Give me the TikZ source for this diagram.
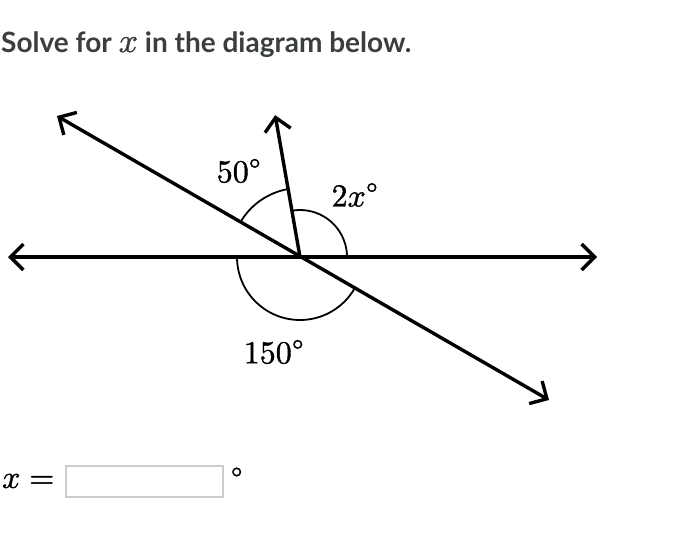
\documentclass[tikz,border=0pt]{standalone}
\usepackage{fontspec}
\usepackage{unicode-math}
\setmathfont{Latin Modern Math}[FakeBold=1.2]
\newfontfamily\lato{Lato}
\usetikzlibrary{arrows.meta}
\definecolor{titlegray}{HTML}{3B3E40}
\definecolor{boxgray}{HTML}{CCCCCC}
\newcommand\degr{^{\scalebox{1.3}{$\scriptstyle\circ$}}}
\begin{document}
\begin{tikzpicture}[x=1pt,y=-1pt,
  mainline/.style={line width=3.4pt,line cap=round},
  tip/.style={-{Straight Barb[length=13pt,width=26pt,line width=3.4pt]}},
  bothtip/.style={{Straight Barb[length=13pt,width=26pt,line width=3.4pt]}-{Straight Barb[length=13pt,width=26pt,line width=3.4pt]}},
  anglearc/.style={line width=1.8pt},
  lbl/.style={inner sep=0pt,font=\fontsize{32}{38}\selectfont}]
\useasboundingbox (0,0) rectangle (678,544);
\fill[white] (0,0) rectangle (678,544);
\node[anchor=base west,inner sep=0pt,text=titlegray,font=\lato\bfseries\fontsize{28}{34}\selectfont] (title) at (1,52) {Solve for {\fontsize{34}{34}\selectfont$x$} in the diagram below.};
\coordinate (O) at (300,257);
\coordinate (Lh) at (8,257);
\coordinate (Rh) at (597,257);
\path (O) ++(-243,-141) coordinate (Ta);
\path (O) ++(249,143) coordinate (Tb);
\path (O) ++(-24.8,-141.8) coordinate (Ry);
% angle arcs
\draw[anglearc] (O) ++(47,0) arc[start angle=0,end angle=-100,radius=47];
\draw[anglearc] (O) ++(-100:69) arc[start angle=-100,end angle=-150,radius=69];
\draw[anglearc] (O) ++(-63,0) arc[start angle=-180,end angle=-330,radius=63];
% lines
\draw[mainline,bothtip] (Lh) -- (Rh);
\draw[mainline,bothtip] (Ta) -- (Tb);
\draw[mainline,tip] (O) -- (Ry);
% labels
\node[lbl] (l50) at (239,171) {$50\degr$};
\node[lbl] (l2x) at (355,195) {$2x\degr$};
\node[lbl] (l150) at (274,352) {$150\degr$};
\node[lbl,anchor=west] (xeq) at (2,481) {$x=$};
\node[draw=boxgray,line width=1.5pt,minimum width=157pt,minimum height=31pt,inner sep=0pt,anchor=north west] (box) at (65,465) {};
\node[lbl,anchor=west] (deg) at ([xshift=7pt,yshift=2pt]box.east) {$\degr$};
\end{tikzpicture}
\end{document}
